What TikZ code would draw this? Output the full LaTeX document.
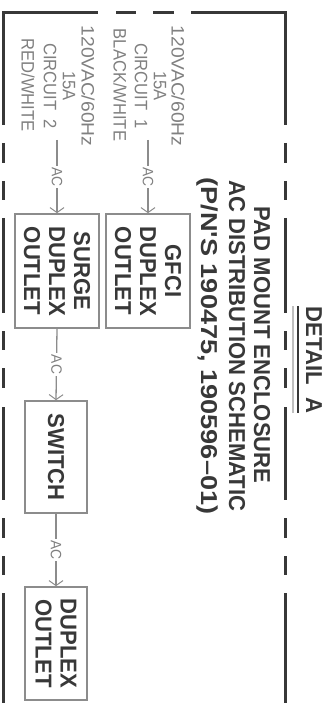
\documentclass[tikz,border=0pt]{standalone}
\usepackage{fontspec}
\usetikzlibrary{arrows.meta}
\newfontfamily\boldnar[FakeStretch=0.96]{Liberation Sans Bold}
\newfontfamily\boldwide[FakeStretch=1.18]{Liberation Sans Bold}
\newfontfamily\thinnar[FakeStretch=0.92]{Liberation Sans}
\newfontfamily\thinwide[FakeStretch=1.07]{Liberation Sans}
\definecolor{ink}{gray}{0.22}
\definecolor{boxgrey}{gray}{0.55}
\definecolor{txtgrey}{gray}{0.5}
\tikzset{
 frameline/.style={draw=ink,line width=3pt},
 blockbox/.style={draw=boxgrey,line width=1.6pt,rotate=-90,align=center,text=ink,inner sep=0pt,
   font=\boldnar\fontsize{23}{25}\selectfont},
 heading/.style={rotate=-90,text=ink,align=center,inner sep=0pt,font=\boldnar\fontsize{23}{25}\selectfont},
 headingwide/.style={heading,font=\boldwide\fontsize{23}{25}\selectfont},
 supply/.style={rotate=-90,text=txtgrey,inner sep=0pt,font=\thinnar\fontsize{18}{20}\selectfont},
 supplywide/.style={supply,font=\thinwide\fontsize{18}{20}\selectfont},
 wire/.style={draw=boxgrey,line width=1.3pt,-{Straight Barb[length=5pt,width=14pt,line width=1pt]}},
 aclabel/.style={rotate=-90,fill=white,text=txtgrey,inner sep=1.5pt,font=\thinnar\fontsize{15}{16}\selectfont},
}
\begin{document}
\begin{tikzpicture}[x=1pt,y=-1pt]
\useasboundingbox (0,0) rectangle (325,703);
% frame
\draw[frameline] (3,125) -- (3,12.5) -- (98,12.5);
\draw[frameline] (116,12.5) -- (136,12.5);
\draw[frameline] (153,12.5) -- (174,12.5);
\draw[frameline] (191,12.5) -- (285,12.5) -- (285,125);
\foreach \x in {3,285}{
 \foreach \a/\b in {143/163,181/200,218/313,331/350,368/388,407/500,518/538,556/575,593/703}{
  \draw[frameline] (\x,\a) -- (\x,\b);
 }}
% heading
\node[heading] (detail) at (314,360) {DETAIL\ \ A};
\draw[draw=ink,line width=2.6pt] (298,306) -- (298,413);
\draw[draw=black!25,line width=2pt] (293,306) -- (293,413);
\node[heading] (t1) at (262,345) {PAD MOUNT ENCLOSURE};
\node[heading] (t2) at (237,346) {AC DISTRIBUTION SCHEMATIC};
\node[headingwide] (t3) at (207,346) {(P/N'S 190475, 190596–01)};
% blocks
\node[blockbox,minimum width=114pt,minimum height=84pt] (gfci) at (148,271) {GFCI\\DUPLEX\\OUTLET};
\node[blockbox,minimum width=114pt,minimum height=84pt] (surge) at (57,271) {SURGE\\DUPLEX\\OUTLET};
\node[blockbox,minimum width=112pt,minimum height=62pt] (switch) at (56,457) {SWITCH};
\node[blockbox,minimum width=113pt,minimum height=62pt] (duplex) at (56,643.5) {DUPLEX\\OUTLET};
% supply labels
\node[supplywide] (a1) at (178,86) {120VAC/60Hz};
\node[supply] (a2) at (160,86) {15A};
\node[supply] (a3) at (141,86) {CIRCUIT\ \ 1};
\node[supply] (a4) at (120,85) {BLACK/WHITE};
\node[supplywide] (b1) at (88,86) {120VAC/60Hz};
\node[supply] (b2) at (69,86) {15A};
\node[supply] (b3) at (50,86) {CIRCUIT\ \ 2};
\node[supply] (b4) at (28,85) {RED/WHITE};
% connectors
\coordinate (feed1) at (148,140);
\coordinate (feed2) at (57,140);
\draw[wire] (feed1) -- node[aclabel]{AC} (gfci.west);
\draw[wire] (feed2) -- node[aclabel]{AC} (surge.west);
\draw[wire] (surge.east) -- node[aclabel]{AC} (switch.west);
\draw[wire] (switch.east) -- node[aclabel]{AC} (duplex.west);
\end{tikzpicture}
\end{document}
